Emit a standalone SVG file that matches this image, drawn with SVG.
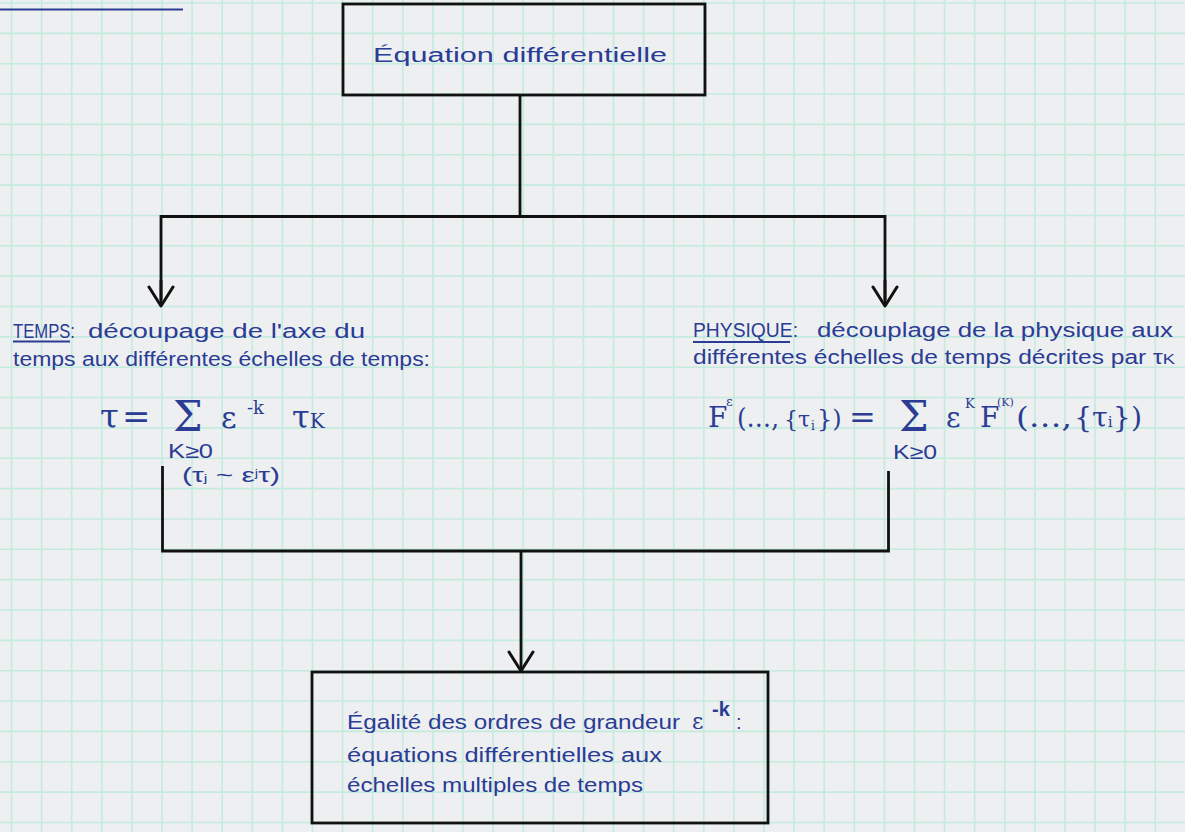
<svg xmlns="http://www.w3.org/2000/svg" width="1185" height="832" viewBox="0 0 1185 832">
<defs>
<marker id="vhead" viewBox="0 0 24 30" refX="22" refY="15" markerWidth="24" markerHeight="30" markerUnits="userSpaceOnUse" orient="auto">
<path d="M3 3L22 15L3 27" fill="none" stroke="#111" stroke-width="3" stroke-linecap="round" stroke-linejoin="round"/>
</marker>
<style>
.grid{fill:none;stroke:#c3ebde;stroke-width:1.6}
.box{fill:none;stroke:#111;stroke-width:2.8}
.wire{fill:none;stroke:#111;stroke-width:2.8;stroke-linejoin:miter}
.t{font-family:"Liberation Sans","DejaVu Sans",sans-serif;fill:#2a3c94;font-size:20px}
.m{font-family:"DejaVu Serif","Liberation Serif",serif;fill:#2a3c94}
.ul{stroke:#2a3c94;stroke-width:2;fill:none}
</style>
</defs>
<rect width="1185" height="832" fill="#eeeff0"/>
<path class="grid" d="M11.5 0V832M41.6 0V832M71.7 0V832M101.8 0V832M131.9 0V832M162 0V832M192.1 0V832M222.2 0V832M252.3 0V832M282.4 0V832M312.5 0V832M342.6 0V832M372.7 0V832M402.8 0V832M432.9 0V832M463 0V832M493.1 0V832M523.2 0V832M553.3 0V832M583.4 0V832M613.5 0V832M643.6 0V832M673.7 0V832M703.8 0V832M733.9 0V832M764 0V832M794.1 0V832M824.2 0V832M854.3 0V832M884.4 0V832M914.5 0V832M944.6 0V832M974.7 0V832M1004.8 0V832M1034.9 0V832M1065 0V832M1095.1 0V832M1125.2 0V832M1155.3 0V832
M0 3H1185M0 33.35H1185M0 63.7H1185M0 94.05H1185M0 124.4H1185M0 154.75H1185M0 185.1H1185M0 215.45H1185M0 245.8H1185M0 276.15H1185M0 306.5H1185M0 336.85H1185M0 367.2H1185M0 397.55H1185M0 427.9H1185M0 458.25H1185M0 488.6H1185M0 518.95H1185M0 549.3H1185M0 579.65H1185M0 610H1185M0 640.35H1185M0 670.7H1185M0 701.05H1185M0 731.4H1185M0 761.75H1185M0 792.1H1185M0 822.45H1185"/>
<path class="ul" d="M0 9.5H183" stroke-width="2.5"/>

<g id="connectors">
<path class="wire" d="M520 95V216.5"/>
<path class="wire" d="M161 300V216.5H885V300"/>
<line class="wire" x1="161" y1="280" x2="161" y2="306" marker-end="url(#vhead)"/>
<line class="wire" x1="885" y1="280" x2="885" y2="306" marker-end="url(#vhead)"/>
<path class="wire" d="M162.5 466V551H888.5V471"/>
<line class="wire" x1="521" y1="551" x2="521" y2="671" marker-end="url(#vhead)"/>
</g>

<g id="node-equation">
<rect class="box" x="343" y="4" width="362" height="91"/>
<text class="t" x="373" y="62" font-size="26" textLength="294" lengthAdjust="spacingAndGlyphs">Équation différentielle</text>
</g>

<g id="node-temps">
<text class="t" x="13" y="338" font-size="14" textLength="62" lengthAdjust="spacingAndGlyphs">TEMPS:</text>
<path class="ul" d="M13 341.5H70"/>
<text class="t" x="88" y="338" textLength="277" lengthAdjust="spacingAndGlyphs">découpage de l'axe du</text>
<text class="t" x="13" y="366" textLength="417" lengthAdjust="spacingAndGlyphs">temps aux différentes échelles de temps:</text>
<text class="m" x="100" y="428" font-size="34">τ</text>
<text class="m" x="122" y="428" font-size="34">=</text>
<text class="m" x="173" y="431" font-size="42">Σ</text>
<text class="m" x="221" y="428" font-size="30">ε</text>
<text class="m" x="247" y="414" font-size="18">-k</text>
<text class="m" x="292" y="428" font-size="32">τ<tspan font-size="20">K</tspan></text>
<text class="t" x="168" y="458" font-size="14" textLength="45" lengthAdjust="spacingAndGlyphs">K≥0</text>
<text class="t" x="182" y="482" font-size="14" textLength="98" lengthAdjust="spacingAndGlyphs">(τ<tspan font-size="11">j</tspan> ~ ε<tspan font-size="10" dy="-5">j</tspan><tspan dy="5">τ)</tspan></text>
</g>

<g id="node-physique">
<text class="t" x="693" y="337" font-size="14" textLength="105" lengthAdjust="spacingAndGlyphs">PHYSIQUE:</text>
<path class="ul" d="M693 342H790"/>
<text class="t" x="817" y="337" textLength="356" lengthAdjust="spacingAndGlyphs">découplage de la physique aux</text>
<text class="t" x="693" y="364" textLength="482" lengthAdjust="spacingAndGlyphs">différentes échelles de temps décrites par τ<tspan font-size="15">K</tspan></text>
<text class="m" x="708" y="427" font-size="28">F</text>
<text class="m" x="726" y="406" font-size="13">ε</text>
<text class="m" x="737" y="427" font-size="26" textLength="42" lengthAdjust="spacingAndGlyphs">(…,</text>
<text class="m" x="784" y="427" font-size="22">{τ</text>
<text class="m" x="811" y="430" font-size="12">i</text>
<text class="m" x="817" y="427" font-size="24">})</text>
<text class="m" x="849" y="428" font-size="32">=</text>
<text class="m" x="899" y="431" font-size="42">Σ</text>
<text class="t" x="893" y="459" font-size="14" textLength="44" lengthAdjust="spacingAndGlyphs">K≥0</text>
<text class="m" x="946" y="427" font-size="28">ε</text>
<text class="m" x="965" y="408" font-size="13">K</text>
<text class="m" x="980" y="427" font-size="28">F</text>
<text class="m" x="997" y="406" font-size="11">(K)</text>
<text class="m" x="1016" y="427" font-size="28" textLength="56" lengthAdjust="spacingAndGlyphs">(…,</text>
<text class="m" x="1074" y="427" font-size="28" textLength="68" lengthAdjust="spacingAndGlyphs">{τ<tspan font-size="15">i</tspan>})</text>
</g>

<g id="node-egalite">
<rect class="box" x="312" y="672" width="456" height="151"/>
<text class="t" x="347" y="729" textLength="333" lengthAdjust="spacingAndGlyphs">Égalité des ordres de grandeur</text>
<text class="m" x="692" y="729" font-size="22">ε</text>
<text class="t" x="712" y="716" font-size="14" font-weight="bold">-k</text>
<text class="t" x="736" y="729">:</text>
<text class="t" x="347" y="762" textLength="315" lengthAdjust="spacingAndGlyphs">équations différentielles aux</text>
<text class="t" x="347" y="792" textLength="296" lengthAdjust="spacingAndGlyphs">échelles multiples de temps</text>
</g>
</svg>
